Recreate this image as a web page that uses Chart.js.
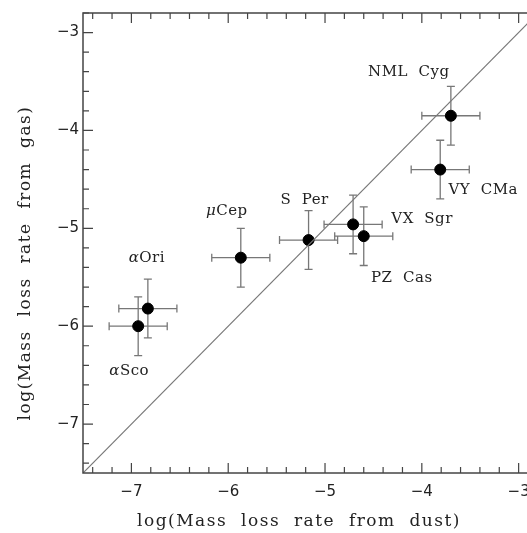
<!DOCTYPE html>
<html>
<head>
<meta charset="utf-8">
<script src="https://cdn.jsdelivr.net/npm/chart.js@4.4.0/dist/chart.umd.min.js"></script>
<style>
  html, body { margin: 0; padding: 0; background: #fff; overflow: hidden; }
  #wrap { width: 560px; height: 533px; }
</style>
</head>
<body>
<div id="wrap"><canvas id="myChart" width="560" height="533"></canvas></div>
<script>
// star names and mass loss rates (log Msun/yr)
const stars = ["αSco", "αOri", "μCep", "S Per", "VX Sgr", "PZ Cas", "NML Cyg", "VY CMa"];
const dustRate = [-6.93, -6.83, -5.87, -5.17, -4.71, -4.60, -3.70, -3.81];
const gasRate = [-6.00, -5.82, -5.30, -5.12, -4.96, -5.08, -3.85, -4.40];
const dustErr = [0.3, 0.3, 0.3, 0.3, 0.3, 0.3, 0.3, 0.3];
const gasErr = [0.3, 0.3, 0.3, 0.3, 0.3, 0.3, 0.3, 0.3];
const majorTicks = [-7, -6, -5, -4, -3];
const axisMin = -7.5;
const axisMax = -2.8;

// label placement relative to point, in pixels
const labelOffsets = [[-9, 45], [-1, -50], [-14, -47], [-4, -40], [69, -5], [38, 42], [-42, -44], [43, 21]];

var points = [];
for (var i = 0; i < stars.length; i++) {
  points.push({ x: dustRate[i], y: gasRate[i] });
}

const frameColor = "#444";
const labelFont = "15px 'DejaVu Serif'";
const greekFont = "italic 15px 'DejaVu Serif'";

// draws a star name centred at (cx, cy); a leading greek letter is italic
function drawName(ctx, name, cx, cy) {
  var text = name.replace(" ", "  ");
  var greek = /^[α-ω]/.test(text) ? text[0] : "";
  var rest = greek ? text.slice(1) : text;
  ctx.font = greekFont;
  var wg = greek ? ctx.measureText(greek).width : 0;
  ctx.font = labelFont;
  var wr = ctx.measureText(rest).width;
  var x0 = cx - (wg + wr) / 2;
  ctx.textAlign = "left";
  if (greek) {
    ctx.font = greekFont;
    ctx.fillText(greek, x0, cy);
    ctx.font = labelFont;
  }
  ctx.fillText(rest, x0 + wg, cy);
}

const extras = {
  id: "extras",
  beforeDatasetsDraw(chart) {
    const ctx = chart.ctx;
    const xs = chart.scales.x;
    const ys = chart.scales.y;
    ctx.save();
    // error bars
    ctx.strokeStyle = "#777";
    ctx.lineWidth = 1.3;
    const cap = 4;
    for (var i = 0; i < stars.length; i++) {
      var px = xs.getPixelForValue(dustRate[i]);
      var py = ys.getPixelForValue(gasRate[i]);
      var x1 = xs.getPixelForValue(dustRate[i] - dustErr[i]);
      var x2 = xs.getPixelForValue(dustRate[i] + dustErr[i]);
      var y1 = ys.getPixelForValue(gasRate[i] - gasErr[i]);
      var y2 = ys.getPixelForValue(gasRate[i] + gasErr[i]);
      ctx.beginPath();
      ctx.moveTo(x1, py); ctx.lineTo(x2, py);
      ctx.moveTo(x1, py - cap); ctx.lineTo(x1, py + cap);
      ctx.moveTo(x2, py - cap); ctx.lineTo(x2, py + cap);
      ctx.moveTo(px, y1); ctx.lineTo(px, y2);
      ctx.moveTo(px - cap, y1); ctx.lineTo(px + cap, y1);
      ctx.moveTo(px - cap, y2); ctx.lineTo(px + cap, y2);
      ctx.stroke();
    }
    ctx.restore();
  },
  afterDatasetsDraw(chart) {
    const ctx = chart.ctx;
    const xs = chart.scales.x;
    const ys = chart.scales.y;
    const a = chart.chartArea;
    ctx.save();
    // frame
    ctx.strokeStyle = frameColor;
    ctx.lineWidth = 1.5;
    ctx.strokeRect(a.left, a.top, a.right - a.left, a.bottom - a.top);
    // inward ticks on every side, minor every 0.2
    ctx.lineWidth = 1.2;
    ctx.beginPath();
    for (var k = -40; k <= -14; k++) {
      var v = k / 5;
      var major = k % 5 === 0;
      var len = major ? 10 : 6;
      if (v >= xs.min && v <= xs.max) {
        var tx = xs.getPixelForValue(v);
        ctx.moveTo(tx, a.bottom); ctx.lineTo(tx, a.bottom - len);
        ctx.moveTo(tx, a.top); ctx.lineTo(tx, a.top + len);
      }
      if (v >= ys.min && v <= ys.max) {
        var ty = ys.getPixelForValue(v);
        ctx.moveTo(a.left, ty); ctx.lineTo(a.left + len, ty);
        ctx.moveTo(a.right, ty); ctx.lineTo(a.right - len, ty);
      }
    }
    ctx.stroke();
    // star names
    ctx.fillStyle = "#222";
    ctx.letterSpacing = "0.5px";
    ctx.textBaseline = "middle";
    for (var i = 0; i < stars.length; i++) {
      var px = xs.getPixelForValue(dustRate[i]);
      var py = ys.getPixelForValue(gasRate[i]);
      drawName(ctx, stars[i], px + labelOffsets[i][0], py + labelOffsets[i][1]);
    }
    // axis titles
    ctx.textAlign = "center";
    ctx.font = "17px 'DejaVu Serif'";
    ctx.letterSpacing = "1.5px";
    ctx.fillText("log(Mass  loss  rate  from  dust)", 299, 522);
    ctx.translate(26, 263);
    ctx.rotate(-Math.PI / 2);
    ctx.fillText("log(Mass  loss  rate  from  gas)", 0, 0);
    ctx.restore();
  },
};

const data = {
  datasets: [
    {
      type: "line",
      data: [{ x: axisMin, y: axisMin }, { x: axisMax, y: axisMax }],
      borderColor: "#777",
      borderWidth: 1.2,
      pointRadius: 0,
      fill: false,
      clip: true,
    },
    {
      type: "scatter",
      data: points,
      backgroundColor: "#000",
      borderColor: "#000",
      pointRadius: 5.5,
      pointHoverRadius: 5.5,
    },
  ],
};

const config = {
  type: "scatter",
  data: data,
  options: {
    responsive: false,
    animation: false,
    layout: { padding: { top: 10, right: 22, left: 0, bottom: 0 } },
    plugins: { legend: { display: false }, tooltip: { enabled: false } },
    scales: {
      x: {
        type: "linear",
        min: axisMin,
        max: axisMax,
        afterBuildTicks: (scale) => { scale.ticks = majorTicks.map((v) => ({ value: v })); },
        afterFit: (scale) => { scale.height = 60; },
        grid: { display: false, drawTicks: false },
        border: { display: false },
        ticks: {
          padding: 10,
          color: "#222",
          font: { family: "DejaVu Sans", size: 15 },
          callback: (v) => "\u2212" + Math.abs(v),
        },
      },
      y: {
        type: "linear",
        min: axisMin,
        max: axisMax,
        afterBuildTicks: (scale) => { scale.ticks = majorTicks.map((v) => ({ value: v })); },
        afterFit: (scale) => { scale.width = 83; },
        grid: { display: false, drawTicks: false },
        border: { display: false },
        ticks: {
          padding: 4,
          color: "#222",
          font: { family: "DejaVu Sans", size: 15 },
          callback: (v) => "\u2212" + Math.abs(v),
        },
      },
    },
  },
  plugins: [extras],
};

const myChart = new Chart(document.getElementById("myChart"), config);
</script>
</body>
</html>
